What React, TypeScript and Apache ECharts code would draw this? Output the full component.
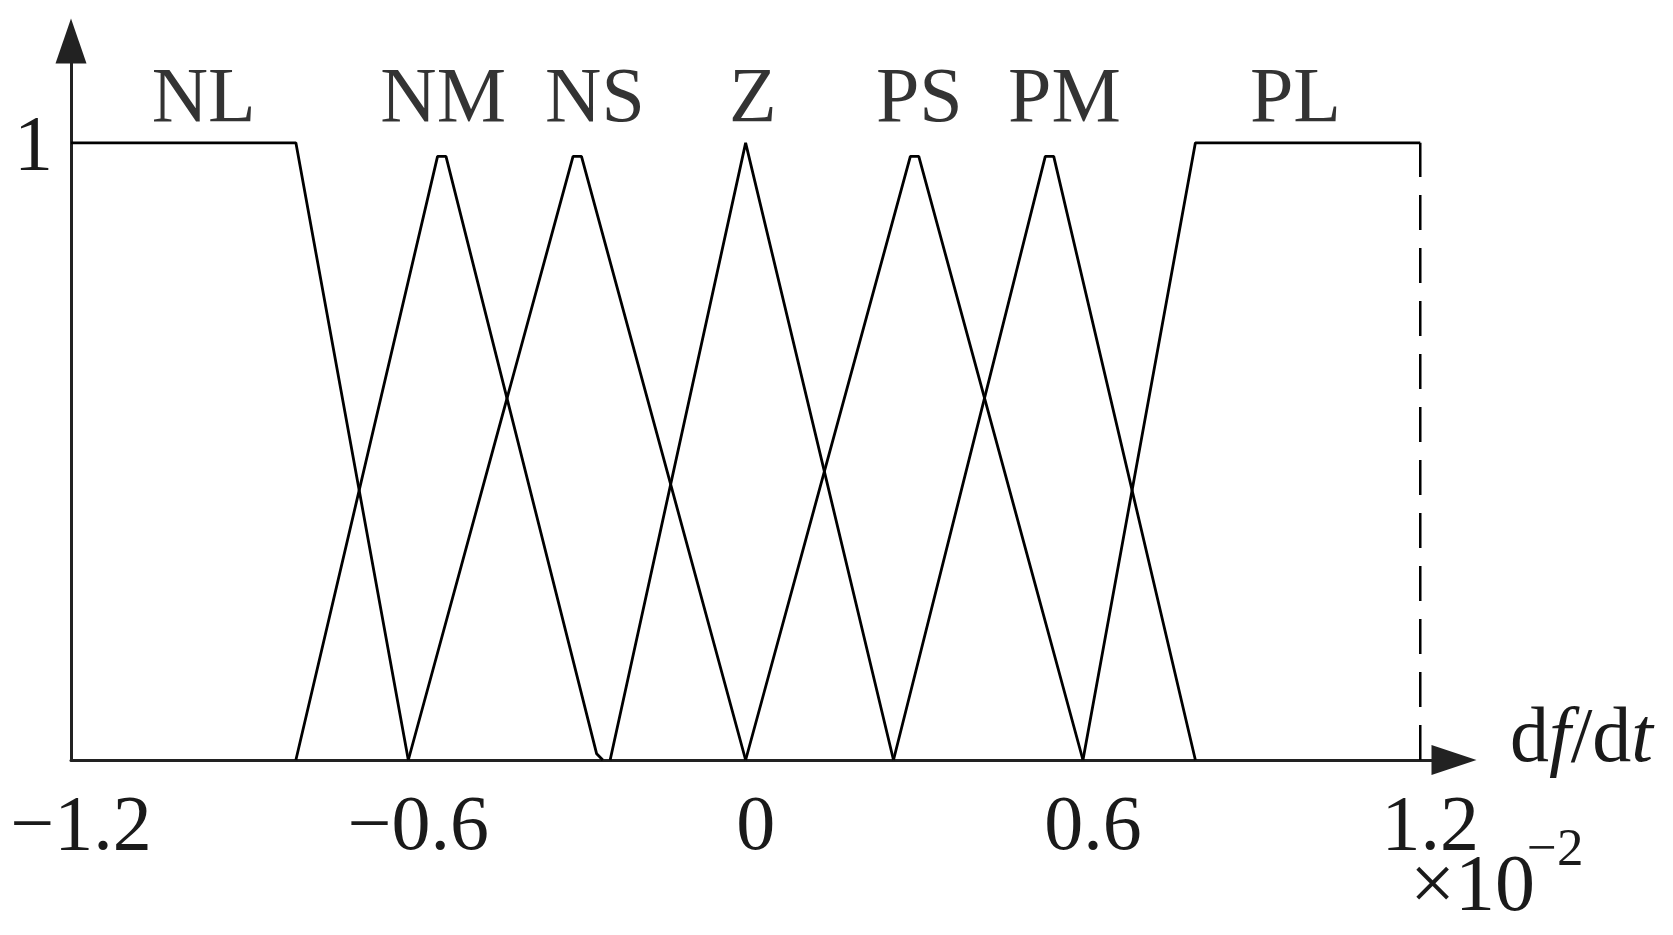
import React, { useEffect, useRef } from 'react';
import * as echarts from 'echarts';

// Fuzzy set names and their membership functions (x in units of 10^-2, y = membership)
const setNames = ['NL', 'NM', 'NS', 'Z', 'PS', 'PM', 'PL'];
const NL = [[-1.2, 1], [-0.8, 1], [-0.6, 0]];
const NM = [[-0.8, 0], [-0.548, 0.978], [-0.533, 0.978], [-0.265, 0.01], [-0.254, 0]];
const NS = [[-0.6, 0], [-0.307, 0.978], [-0.292, 0.978], [0, 0]];
const Z = [[-0.241, 0], [0, 1], [0.263, 0]];
const PS = [[0, 0], [0.293, 0.978], [0.308, 0.978], [0.6, 0]];
const PM = [[0.263, 0], [0.533, 0.978], [0.548, 0.978], [0.8, 0]];
const PL = [[0.6, 0], [0.8, 1], [1.2, 1]];
const PLedge = [[1.2, 0], [1.2, 1]];
const setData = [NL, NM, NS, Z, PS, PM, PL];

// Label anchors (data coords)
const labelX = [-0.964, -0.538, -0.268, 0.013, 0.309, 0.567, 0.978];
const labelY = 1.078;

// Ticks
const xTickValues = [-1.2, -0.6, 0, 0.6, 1.2];
const xTickLabels = ['\u22121.2', '\u22120.6', '0', '0.6', '1.2'];
const yTickValues = [1];
const yTickLabels = ['1'];

const FONT = "'Liberation Serif', 'Times New Roman', serif";

export default function App() {
  const ref = useRef<HTMLDivElement>(null);
  useEffect(() => {
    if (!ref.current) return;
    const chart = echarts.init(ref.current, undefined, { renderer: 'svg' });
    const lineSeries = setData.map((d, i) => ({
      name: setNames[i],
      type: 'line',
      data: d,
      symbol: 'none',
      showSymbol: false,
      clip: false,
      lineStyle: { color: '#000', width: 2.8 },
      itemStyle: { color: '#000' },
      z: 3,
    }));
    chart.setOption({
      animation: false,
      backgroundColor: '#fff',
      grid: {
        left: 71,
        right: 219,
        top: 41,
        bottom: 175,
        containLabel: false,
        outerBoundsMode: 'none',
      },
      xAxis: {
        type: 'value',
        min: -1.2,
        max: 1.26,
        interval: 0.6,
        name: 'd{i|f}/d{i|t}',
        nameLocation: 'end',
        nameGap: 56,
        nameTextStyle: {
          fontFamily: FONT,
          fontSize: 78,
          color: '#1a1a1a',
          align: 'left',
          verticalAlign: 'middle',
          padding: [0, 0, 52, 0],
          rich: { i: { fontStyle: 'italic', fontFamily: FONT, fontSize: 78, color: '#1a1a1a' } },
        },
        axisLine: {
          show: true,
          onZero: false,
          symbol: ['none', 'triangle'],
          symbolSize: [30, 45],
          lineStyle: { color: '#222', width: 3 },
        },
        axisTick: { show: false },
        splitLine: { show: false },
        axisLabel: {
          show: true,
          showMaxLabel: false,
          margin: 34,
          fontFamily: FONT,
          fontSize: 78,
          lineHeight: 56,
          color: '#1a1a1a',
          padding: [0, 0, 0, 20],
          formatter: (v: number) => {
            const idx = xTickValues.findIndex((t) => Math.abs(t - v) < 1e-6);
            return idx >= 0 ? xTickLabels[idx] : '';
          },
        },
      },
      yAxis: {
        type: 'value',
        min: 0,
        max: 1.165,
        interval: 1,
        axisLine: {
          show: true,
          onZero: false,
          symbol: ['none', 'triangle'],
          symbolSize: [31, 45],
          lineStyle: { color: '#222', width: 3 },
        },
        axisTick: { show: false },
        splitLine: { show: false },
        axisLabel: {
          show: true,
          showMaxLabel: false,
          margin: 18,
          fontFamily: FONT,
          fontSize: 78,
          lineHeight: 60,
          color: '#1a1a1a',
          padding: [0, 0, 14, 0],
          formatter: (v: number) => {
            const idx = yTickValues.findIndex((t) => Math.abs(t - v) < 1e-6);
            return idx >= 0 ? yTickLabels[idx] : '';
          },
        },
      },
      graphic: [
        {
          type: 'text',
          x: 1410,
          y: 883,
          style: {
            text: '\u00d710',
            fontFamily: FONT,
            fontSize: 80,
            lineHeight: 56,
            fill: '#1a1a1a',
            align: 'left',
            verticalAlign: 'middle',
          },
        },
        {
          type: 'text',
          x: 1527,
          y: 847,
          style: {
            text: '\u22122',
            fontFamily: FONT,
            fontSize: 53,
            lineHeight: 36,
            fill: '#1a1a1a',
            align: 'left',
            verticalAlign: 'middle',
          },
        },
      ],
      series: [
        ...lineSeries,
        {
          name: 'PL edge',
          type: 'line',
          data: PLedge,
          symbol: 'none',
          clip: false,
          lineStyle: { color: '#000', width: 2.5, type: [35, 18] },
          z: 3,
        },
        {
          name: 'labels',
          type: 'scatter',
          data: labelX.map((x, i) => ({ value: [x, labelY], name: setNames[i] })),
          symbolSize: 1,
          itemStyle: { color: 'rgba(0,0,0,0)' },
          label: {
            show: true,
            position: 'inside',
            formatter: '{b}',
            fontFamily: FONT,
            fontSize: 78,
            color: '#000',
          },
          silent: true,
        },
      ],
    });
    return () => chart.dispose();
  }, []);
  return (
    <div
      ref={ref}
      style={{ position: 'absolute', left: 0, top: 0, width: 1673, height: 935, background: '#fff' }}
    />
  );
}
